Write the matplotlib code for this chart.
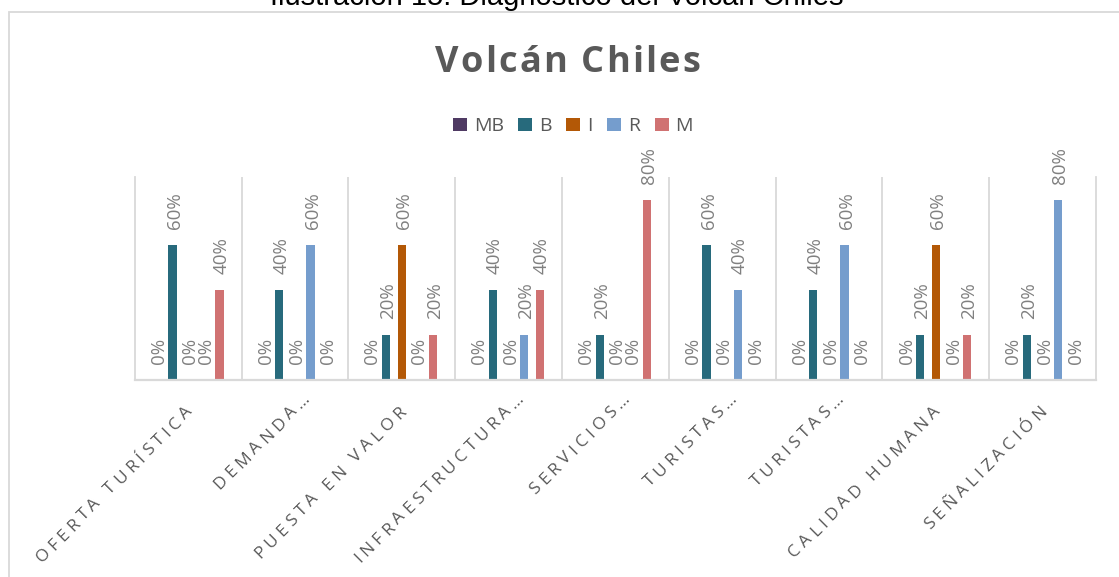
import numpy as np
import matplotlib
matplotlib.use("Agg")
import matplotlib.pyplot as plt
import matplotlib.transforms as mtransforms
from matplotlib.font_manager import FontProperties, findfont, get_font
from matplotlib.patches import Rectangle

categories = ["OFERTA TURÍSTICA", "DEMANDA…", "PUESTA EN VALOR", "INFRAESTRUCTURA…",
              "SERVICIOS…", "TURISTAS…", "TURISTAS…", "CALIDAD HUMANA", "SEÑALIZACIÓN"]
series_names = ["MB", "B", "I", "R", "M"]
mb = [0, 0, 0, 0, 0, 0, 0, 0, 0]
b = [60, 40, 20, 40, 20, 60, 40, 20, 20]
i_vals = [0, 0, 60, 0, 0, 0, 0, 60, 0]
r = [0, 60, 0, 20, 0, 40, 60, 0, 80]
m = [40, 0, 20, 40, 80, 0, 0, 20, 0]
colors = ["#4F3A63", "#276A7C", "#B35806", "#759DCD", "#D07272"]

W, H = 1119, 577
fig = plt.figure(figsize=(W / 100, H / 100), dpi=100)

GRAY = "#595959"
LINE = "#D9D9D9"
FONT = "Open Sans"


def char_advances(s, fp):
    font = get_font(findfont(fp))
    font.set_size(fp.get_size_in_points(), 72)
    return [font.load_char(ord(c)).linearHoriAdvance / 65536 for c in s]


def spaced_text(x, y, s, transform, size, spacing=0.0, rot=0, align="left",
                weight="normal", color=GRAY, family=FONT):
    # draw text char by char so we can add letter spacing like excel does
    fp = FontProperties(family=family, size=size, weight=weight)
    adv = char_advances(s, fp)
    total = sum(adv) + spacing * (len(s) - 1)
    pos = {"left": 0.0, "center": -total / 2, "right": -total}[align]
    ct, st = np.cos(np.deg2rad(rot)), np.sin(np.deg2rad(rot))
    for c, a in zip(s, adv):
        tr = mtransforms.offset_copy(transform, fig=fig, x=pos * ct, y=pos * st, units="points")
        fig.text(x, y, c, transform=tr, rotation=rot, rotation_mode="anchor",
                 ha="left", va="baseline", fontproperties=fp, color=color)
        pos += a + spacing


# outer chart border (runs off the right/bottom of the image)
fig.patches.append(Rectangle((8.5 / W, -0.2), 1.2, 1.2 - 11.5 / H, transform=fig.transFigure,
                             fill=False, ec=LINE, lw=1.3))

fig.text(557 / W, 1 - 5 / H, "Ilustración 15: Diagnóstico del Volcán Chiles",
         ha="center", va="baseline", fontsize=21, family="Liberation Sans", color="black")

spaced_text(567.7 / W, 1 - 71.7 / H, "Volcán Chiles", fig.transFigure, 26,
            spacing=1.6, align="center", weight="bold")

ax = fig.add_axes([134.7 / W, (H - 379.5) / H, (1096 - 134.7) / W, (379.5 - 177.3) / H])
x = np.arange(len(categories))
slot = 0.1467
bw = 0.078
data = [mb, b, i_vals, r, m]
for k, (name, vals, col) in enumerate(zip(series_names, data, colors)):
    xs = x + (k - 2) * slot
    ys = np.array(vals) / 100
    ax.bar(xs, ys, width=bw, color=col, label=name)
    for xv, yv in zip(xs, ys):
        ax.annotate(f"{yv:.0%}", (xv, yv), xytext=(1.5, 11), textcoords="offset points",
                    rotation=90, ha="center", va="bottom", fontsize=13.5,
                    family=FONT, color="#808080")

ax.set_xlim(-0.5, len(categories) - 0.5)
ax.set_ylim(0, 0.9)
ax.set_yticks([])
ax.set_xticks(x)
ax.set_xticklabels([])
ax.tick_params(axis="x", length=0)
ax.set_xticks(np.arange(0.5, len(categories) - 0.5, 1), minor=True)
ax.tick_params(axis="x", which="minor", length=0)
ax.grid(which="minor", axis="x", color=LINE, lw=1.3)
ax.spines["top"].set_visible(False)
for side in ["left", "right"]:
    ax.spines[side].set_color(LINE)
    ax.spines[side].set_linewidth(1.3)
ax.spines["bottom"].set_color(LINE)
ax.spines["bottom"].set_linewidth(1.6)
ax.set_facecolor("none")

# category labels, 45 degrees, anchored at end of baseline
xt = ax.get_xaxis_transform()
for xv, lab in zip(x, categories):
    if lab.endswith("…"):
        dx, dy = 11.0, -14.5
    else:
        dx, dy = 3.5, -23.5
    tr = mtransforms.offset_copy(xt, fig=fig, x=dx, y=dy, units="points")
    spaced_text(xv, 0, lab, tr, 12.5, spacing=3.0, rot=45, align="right")

fig.legend(loc="center", bbox_to_anchor=(573 / W, 1 - 126.3 / H), ncol=5, frameon=False,
           prop={"family": FONT, "size": 14}, labelcolor=GRAY,
           handlelength=0.72, handleheight=0.72, handletextpad=0.35, columnspacing=0.75)

fig.savefig("out.png", dpi=100)
